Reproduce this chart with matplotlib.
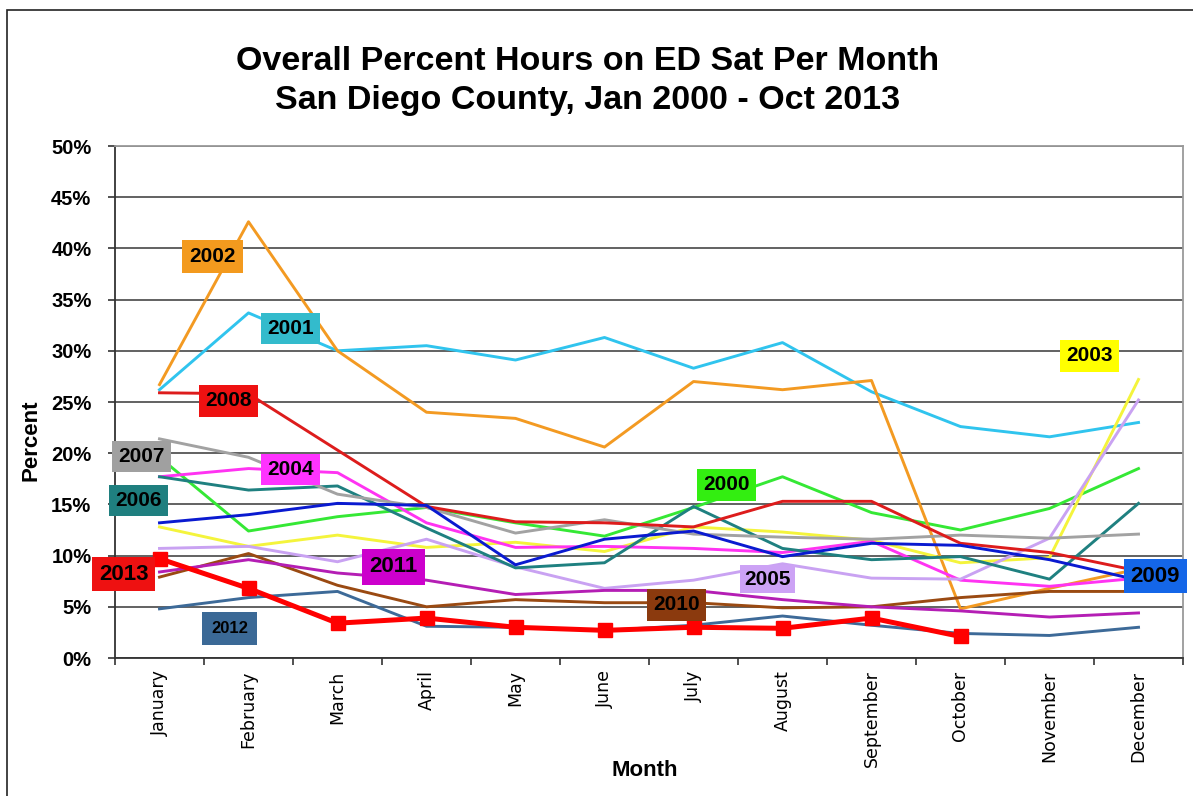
#!/bin/python
# percent of hours on ED saturation per month, one line per year

from typing import List

import numpy as np
import matplotlib
matplotlib.use('Agg')
import matplotlib.pyplot as plt
from matplotlib.patches import Rectangle
from matplotlib.ticker import FuncFormatter, MultipleLocator

'''
values read off the reference chart (percent of hours)
'''

months: List[str] = ['January', 'February', 'March', 'April', 'May', 'June',
                     'July', 'August', 'September', 'October', 'November', 'December']

years: List[str] = ['2000', '2001', '2002', '2003', '2004', '2005', '2006',
                    '2007', '2008', '2009', '2010', '2011', '2012', '2013']

pct_2000: List[float] = [19.6, 12.4, 13.8, 14.7, 13.2, 11.9, 14.7, 17.7, 14.2, 12.5, 14.6, 18.5]
pct_2001: List[float] = [26.2, 33.7, 30.0, 30.5, 29.1, 31.3, 28.3, 30.8, 26.0, 22.6, 21.6, 23.0]
pct_2002: List[float] = [26.7, 42.6, 30.0, 24.0, 23.4, 20.6, 27.0, 26.2, 27.1, 4.8, 6.8, 8.7]
pct_2003: List[float] = [12.8, 10.9, 12.0, 10.8, 11.3, 10.4, 12.8, 12.3, 11.5, 9.3, 9.8, 27.2]
pct_2004: List[float] = [17.7, 18.5, 18.1, 13.2, 10.8, 10.9, 10.7, 10.3, 11.4, 7.6, 7.0, 7.8]
pct_2005: List[float] = [10.7, 10.9, 9.4, 11.6, 8.9, 6.8, 7.6, 9.2, 7.8, 7.7, 11.7, 25.2]
pct_2006: List[float] = [17.7, 16.4, 16.8, 12.7, 8.8, 9.3, 14.8, 10.7, 9.6, 9.9, 7.7, 15.1]
pct_2007: List[float] = [21.4, 19.6, 16.0, 14.7, 12.2, 13.5, 12.1, 11.8, 11.6, 12.0, 11.7, 12.1]
pct_2008: List[float] = [25.9, 25.8, 20.3, 14.8, 13.3, 13.2, 12.8, 15.3, 15.3, 11.2, 10.3, 8.5]
pct_2009: List[float] = [13.2, 14.0, 15.1, 14.9, 9.1, 11.6, 12.4, 9.9, 11.2, 11.0, 9.6, 7.6]
pct_2010: List[float] = [7.9, 10.2, 7.1, 5.0, 5.7, 5.4, 5.4, 4.9, 5.0, 5.9, 6.5, 6.5]
pct_2011: List[float] = [8.4, 9.6, 8.3, 7.6, 6.2, 6.6, 6.6, 5.7, 5.0, 4.6, 4.0, 4.4]
pct_2012: List[float] = [4.8, 5.9, 6.5, 3.1, 3.0, 2.7, 3.2, 4.1, 3.2, 2.4, 2.2, 3.0]
pct_2013: List[float] = [9.7, 6.8, 3.4, 3.9, 3.0, 2.7, 3.0, 2.9, 3.9, 2.1]

# styling, kept apart from the values
line_colors: List[str] = ['#35E835', '#30C4EE', '#F39A22', '#F4F43C', '#FF33F2', '#C9A2F2', '#1F8080',
                          '#A2A2A2', '#DD1C1C', '#0A1AD0', '#9A4A12', '#B41EB4', '#3D6A98', '#FF0000']
box_colors: List[str] = ['#33EE11', '#33BBCC', '#F39A1E', '#FFFF00', '#FF33FF', '#CCA2F5', '#1F7F7F',
                         '#A0A0A0', '#EE1111', '#1466E8', '#8B3A0E', '#CC00CC', '#3B6996', '#EE1111']
label_x: List[float] = [6.37, 1.47, 0.60, 10.45, 1.47, 6.83, -0.24, -0.20, 0.77, 11.19, 5.81, 2.63, 0.79, -0.40]
label_y: List[float] = [16.9, 32.2, 39.2, 29.5, 18.4, 7.7, 15.4, 19.7, 25.1, 8.0, 5.2, 8.9, 2.9, 8.2]
label_size: List[float] = [15, 15, 15, 15, 15, 15, 15, 15, 15, 16, 15, 16, 12, 16]
label_pad: List[float] = [0.3, 0.3, 0.35, 0.3, 0.3, 0.2, 0.3, 0.3, 0.3, 0.3, 0.3, 0.35, 0.55, 0.3]

FIG_W, FIG_H = 1193, 796


def fig_xy(px: float, py: float):
  '''
  convert pixel position of the reference into figure coordinates
  '''
  return px / FIG_W, 1 - py / FIG_H


def plot_chart(output_file_name: str) -> None:
  '''
  draw all years and the year boxes, save into output_file_name
  '''
  plt.rcParams['font.family'] = ['Liberation Sans', 'DejaVu Sans']

  fig = plt.figure(figsize=(FIG_W / 100, FIG_H / 100), dpi=100)
  fig.patches.append(Rectangle(fig_xy(7, 800), 1.2, (800 - 10) / FIG_H, transform=fig.transFigure,
                               fill=False, edgecolor='#222222', linewidth=1.2))

  ax = fig.add_axes([115 / FIG_W, (FIG_H - 658) / FIG_H, 1068 / FIG_W, 512 / FIG_H])

  series: List[List[float]] = [pct_2000, pct_2001, pct_2002, pct_2003, pct_2004, pct_2005, pct_2006,
                               pct_2007, pct_2008, pct_2009, pct_2010, pct_2011, pct_2012, pct_2013]
  x = np.arange(len(months))

  for i, values in enumerate(series):
    if years[i] == '2013':
      ax.plot(x[:len(values)], values, color=line_colors[i], linewidth=3.6, marker='s',
              markersize=10, zorder=10, solid_joinstyle='miter')
    else:
      ax.plot(x[:len(values)], values, color=line_colors[i], linewidth=2.1, zorder=3 + i * 0.1)

  for i, year in enumerate(years):
    ax.text(label_x[i], label_y[i], year, ha='center', va='center', fontsize=label_size[i],
            fontweight='bold', color='black', zorder=20, clip_on=False,
            bbox=dict(boxstyle='square,pad={}'.format(label_pad[i]), facecolor=box_colors[i],
                      edgecolor='none'))

  ax.set_xlim(-0.5, 11.5)
  ax.set_ylim(0, 50)
  ax.yaxis.set_major_locator(MultipleLocator(5))
  ax.yaxis.set_major_formatter(FuncFormatter(lambda v, _: '{:d}%'.format(int(round(v)))))
  ax.grid(axis='y', color='#555555', linewidth=1.3, zorder=1)
  ax.set_axisbelow(True)

  ax.set_xticks(x)
  ax.set_xticklabels(months, rotation=90, fontsize=12.5, family='DejaVu Sans', va='top')
  ax.set_xticks(np.arange(-0.5, 12, 1), minor=True)
  ax.tick_params(axis='x', which='major', length=0, pad=9)
  ax.tick_params(axis='x', which='minor', length=5, width=1.2, color='#333333')
  ax.tick_params(axis='y', length=5, width=1.2, color='#333333', pad=12)
  for label in ax.get_yticklabels():
    label.set_fontweight('bold')
    label.set_fontsize(14.5)

  for side in ('left', 'bottom'):
    ax.spines[side].set_color('#333333')
    ax.spines[side].set_linewidth(1.3)
  for side in ('top', 'right'):
    ax.spines[side].set_color('#9a9a9a')
    ax.spines[side].set_linewidth(1.3)

  fig.text(*fig_xy(588, 62), 'Overall Percent Hours on ED Sat Per Month', ha='center', va='center',
           fontsize=24.5, fontweight='bold')
  fig.text(*fig_xy(588, 101), 'San Diego County, Jan 2000 - Oct 2013', ha='center', va='center',
           fontsize=24.5, fontweight='bold')
  fig.text(*fig_xy(31, 440), 'Percent', rotation=90, ha='center', va='center', fontsize=16,
           fontweight='bold')
  fig.text(*fig_xy(645, 770), 'Month', ha='center', va='center', fontsize=16, fontweight='bold')

  fig.savefig(output_file_name, dpi=100)


if __name__ == "__main__":
  plot_chart('out.png')
